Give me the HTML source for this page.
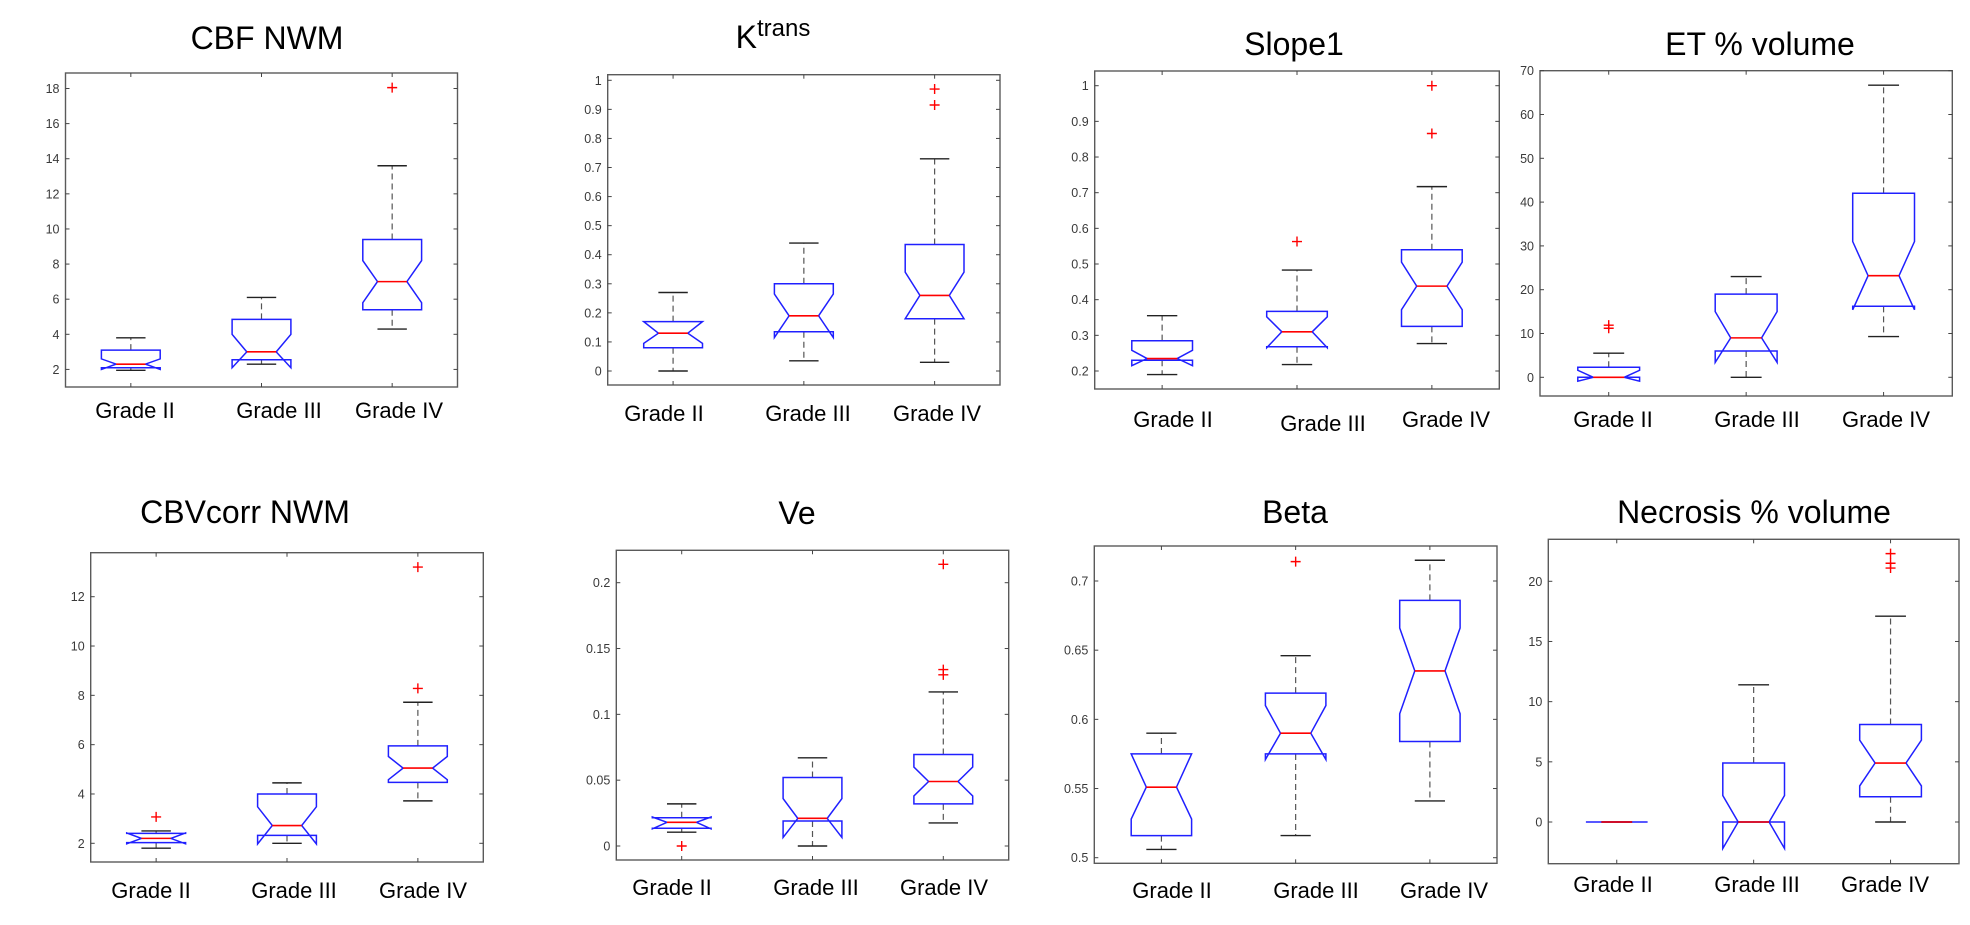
<!DOCTYPE html>
<html><head><meta charset="utf-8">
<style>
html,body{margin:0;padding:0;background:#fff;}
svg{display:block;}
</style></head>
<body>
<svg id="fig" width="1970" height="925" viewBox="0 0 1970 925" xmlns="http://www.w3.org/2000/svg"></svg>
<script>
// ---- data (per panel, per group: Grade II, Grade III, Grade IV) ----
const grades = ["Grade II", "Grade III", "Grade IV"];

const cbfWhiskLo = [1.95, 2.3, 4.3];
const cbfQ1 = [2.1, 2.55, 5.4];
const cbfNotchLo = [2.0, 2.1, 5.8];
const cbfMedian = [2.3, 3.0, 7.0];
const cbfNotchHi = [2.6, 4.0, 8.2];
const cbfQ3 = [3.1, 4.85, 9.4];
const cbfWhiskHi = [3.8, 6.1, 13.6];
const cbfOutliers = [[], [], [18.05]];
const cbfTicks = [2, 4, 6, 8, 10, 12, 14, 16, 18];

const ktWhiskLo = [0, 0.035, 0.03];
const ktQ1 = [0.08, 0.135, 0.18];
const ktNotchLo = [0.095, 0.115, 0.18];
const ktMedian = [0.13, 0.19, 0.26];
const ktNotchHi = [0.17, 0.265, 0.34];
const ktQ3 = [0.17, 0.30, 0.435];
const ktWhiskHi = [0.27, 0.44, 0.73];
const ktOutliers = [[], [], [0.97, 0.915]];
const ktTicks = [0, 0.1, 0.2, 0.3, 0.4, 0.5, 0.6, 0.7, 0.8, 0.9, 1];

const slWhiskLo = [0.19, 0.218, 0.277];
const slQ1 = [0.23, 0.268, 0.325];
const slNotchLo = [0.215, 0.265, 0.372];
const slMedian = [0.235, 0.31, 0.438];
const slNotchHi = [0.258, 0.352, 0.505];
const slQ3 = [0.285, 0.367, 0.54];
const slWhiskHi = [0.355, 0.483, 0.717];
const slOutliers = [[], [0.563], [1.0, 0.866]];
const slTicks = [0.2, 0.3, 0.4, 0.5, 0.6, 0.7, 0.8, 0.9, 1];

const etWhiskLo = [0, 0, 9.3];
const etQ1 = [0, 6, 16.2];
const etNotchLo = [-0.9, 3.4, 15.4];
const etMedian = [0, 9, 23.2];
const etNotchHi = [1.6, 15, 31];
const etQ3 = [2.3, 19, 42];
const etWhiskHi = [5.5, 23, 66.7];
const etOutliers = [[11.9, 11.2], [], []];
const etTicks = [0, 10, 20, 30, 40, 50, 60, 70];

const cbvWhiskLo = [1.8, 2.0, 3.72];
const cbvQ1 = [2.03, 2.32, 4.47];
const cbvNotchLo = [1.98, 1.97, 4.58];
const cbvMedian = [2.2, 2.72, 5.05];
const cbvNotchHi = [2.42, 3.48, 5.52];
const cbvQ3 = [2.4, 4.0, 5.95];
const cbvWhiskHi = [2.5, 4.45, 7.72];
const cbvOutliers = [[3.07], [], [13.2, 8.28]];
const cbvTicks = [2, 4, 6, 8, 10, 12];

const veWhiskLo = [0.0105, 0, 0.0175];
const veQ1 = [0.0135, 0.019, 0.032];
const veNotchLo = [0.013, 0.0065, 0.038];
const veMedian = [0.018, 0.021, 0.049];
const veNotchHi = [0.022, 0.036, 0.06];
const veQ3 = [0.0215, 0.052, 0.0695];
const veWhiskHi = [0.032, 0.067, 0.117];
const veOutliers = [[0], [], [0.214, 0.134, 0.13]];
const veTicks = [0, 0.05, 0.1, 0.15, 0.2];

const beWhiskLo = [0.506, 0.516, 0.541];
const beQ1 = [0.516, 0.575, 0.584];
const beNotchLo = [0.528, 0.571, 0.604];
const beMedian = [0.551, 0.590, 0.635];
const beNotchHi = [0.575, 0.610, 0.666];
const beQ3 = [0.575, 0.619, 0.686];
const beWhiskHi = [0.590, 0.646, 0.715];
const beOutliers = [[], [0.714], []];
const beTicks = [0.5, 0.55, 0.6, 0.65, 0.7];

const neWhiskLo = [0, 0, 0];
const neQ1 = [0, 0, 2.1];
const neNotchLo = [0, -2.2, 3.0];
const neMedian = [0, 0, 4.9];
const neNotchHi = [0, 2.2, 6.8];
const neQ3 = [0, 4.9, 8.1];
const neWhiskHi = [0, 11.4, 17.1];
const neOutliers = [[], [], [22.3, 21.5, 21.1]];
const neTicks = [0, 5, 10, 15, 20];

// ---- layout (pixel geometry, not data) ----
const panels = [
 {id:"cbf-nwm", title:"CBF NWM", L:65.5,T:73,R:457.5,B:387, ref:[18,88.5,4,334.3], tx:267,ty:49, lx:[135,279,399], ly:418,
  s:[cbfWhiskLo,cbfQ1,cbfNotchLo,cbfMedian,cbfNotchHi,cbfQ3,cbfWhiskHi], o:cbfOutliers, ticks:cbfTicks},
 {id:"ktrans", title:"K", sup:"trans", L:607.7,T:74.7,R:1000,B:385, ref:[1,80.3,0,371], tx:773,ty:48, lx:[664,808,937], ly:421,
  s:[ktWhiskLo,ktQ1,ktNotchLo,ktMedian,ktNotchHi,ktQ3,ktWhiskHi], o:ktOutliers, ticks:ktTicks},
 {id:"slope1", title:"Slope1", L:1094.7,T:71,R:1499.3,B:389, ref:[1,85.7,0.2,371], tx:1294,ty:55, lx:[1173,1323,1446], ly:[427,431,427],
  s:[slWhiskLo,slQ1,slNotchLo,slMedian,slNotchHi,slQ3,slWhiskHi], o:slOutliers, ticks:slTicks},
 {id:"et-volume", title:"ET % volume", L:1540,T:70.7,R:1952.3,B:396, ref:[70,70.7,0,377.3], tx:1760,ty:55, lx:[1613,1757,1886], ly:427,
  s:[etWhiskLo,etQ1,etNotchLo,etMedian,etNotchHi,etQ3,etWhiskHi], o:etOutliers, ticks:etTicks},
 {id:"cbvcorr-nwm", title:"CBVcorr NWM", L:90.7,T:552.7,R:483.3,B:862, ref:[12,596.7,2,843.3], tx:245,ty:523, lx:[151,294,423], ly:898,
  s:[cbvWhiskLo,cbvQ1,cbvNotchLo,cbvMedian,cbvNotchHi,cbvQ3,cbvWhiskHi], o:cbvOutliers, ticks:cbvTicks},
 {id:"ve", title:"Ve", L:616.3,T:550.3,R:1008.7,B:860, ref:[0.2,582.7,0,846], tx:797,ty:524, lx:[672,816,944], ly:895,
  s:[veWhiskLo,veQ1,veNotchLo,veMedian,veNotchHi,veQ3,veWhiskHi], o:veOutliers, ticks:veTicks},
 {id:"beta", title:"Beta", L:1094.3,T:546,R:1497,B:863.3, ref:[0.7,581,0.5,857.7], tx:1295,ty:523, lx:[1172,1316,1444], ly:898,
  s:[beWhiskLo,beQ1,beNotchLo,beMedian,beNotchHi,beQ3,beWhiskHi], o:beOutliers, ticks:beTicks},
 {id:"necrosis-volume", title:"Necrosis % volume", L:1548.3,T:539.3,R:1959,B:863.7, ref:[20,581.3,0,822], tx:1754,ty:523, lx:[1613,1757,1885], ly:892,
  s:[neWhiskLo,neQ1,neNotchLo,neMedian,neNotchHi,neQ3,neWhiskHi], o:neOutliers, ticks:neTicks}
];

const NS = "http://www.w3.org/2000/svg";
const fig = document.getElementById("fig");
function mk(tag, attrs, parent){
  const e = document.createElementNS(NS, tag);
  for (const k in attrs) e.setAttribute(k, attrs[k]);
  parent.appendChild(e);
  return e;
}

panels.forEach(p => {
  const g = mk("g", {}, fig);
  
  
  const [v1,p1,v2,p2] = p.ref;
  const yS = v => p1 + (v - v1) * (p2 - p1) / (v2 - v1);
  const sp = (p.R - p.L) / 3;
  const xS = i => p.L + (i + 0.5) * sp;
  const hw = sp * 0.225, nw = hw * 0.5;

  // title
  const t = mk("text", {x:p.tx, y:p.ty, "text-anchor":"middle", "font-family":"Liberation Sans, sans-serif", "font-size":32, fill:"#000"}, g);
  
  
  t.textContent = p.title;
  if (p.sup) {
    const ts = mk("tspan", {"font-size":24, dy:-12}, t);
    ts.textContent = p.sup;
  }

  // frame
  const fr = mk("rect", {x:p.L, y:p.T, width:p.R-p.L, height:p.B-p.T, fill:"none", stroke:"#5a5a5a", "stroke-width":1.4}, g);
  
  

  // y ticks
  p.ticks.forEach(v => {
    const y = yS(v);
    mk("line", {x1:p.L, x2:p.L+4, y1:y, y2:y, stroke:"#444", "stroke-width":1}, g);
    mk("line", {x1:p.R-4, x2:p.R, y1:y, y2:y, stroke:"#444", "stroke-width":1}, g);
    const tl = mk("text", {x:p.L-6, y:y+4.5, "text-anchor":"end", "font-family":"Liberation Sans, sans-serif", "font-size":12.5, fill:"#3a3a3a"}, g);
    
    
    tl.textContent = String(v);
  });

  const [wLo,q1,nLo,med,nHi,q3,wHi] = p.s;
  grades.forEach((gname, i) => {
    const x = xS(i);
    mk("line", {x1:x, x2:x, y1:p.T, y2:p.T+4, stroke:"#444"}, g);
    mk("line", {x1:x, x2:x, y1:p.B-4, y2:p.B, stroke:"#444"}, g);
    // whiskers
    const wu = mk("line", {x1:x, x2:x, y1:yS(q3[i]), y2:yS(wHi[i]), stroke:"#555", "stroke-width":1.2, "stroke-dasharray":"6,4"}, g);
    
    
    const wl = mk("line", {x1:x, x2:x, y1:yS(q1[i]), y2:yS(wLo[i]), stroke:"#555", "stroke-width":1.2, "stroke-dasharray":"6,4"}, g);
    
    
    const cu = mk("line", {x1:x-nw, x2:x+nw, y1:yS(wHi[i]), y2:yS(wHi[i]), stroke:"#222", "stroke-width":1.4}, g);
    
    
    const cl = mk("line", {x1:x-nw, x2:x+nw, y1:yS(wLo[i]), y2:yS(wLo[i]), stroke:"#222", "stroke-width":1.4}, g);
    
    
    // notched box
    const pts = [
      [x-hw, yS(q3[i])], [x-hw, yS(nHi[i])], [x-nw, yS(med[i])], [x-hw, yS(nLo[i])], [x-hw, yS(q1[i])],
      [x+hw, yS(q1[i])], [x+hw, yS(nLo[i])], [x+nw, yS(med[i])], [x+hw, yS(nHi[i])], [x+hw, yS(q3[i])]
    ].map(a => a[0].toFixed(1) + "," + a[1].toFixed(1)).join(" ");
    const bx = mk("polygon", {points:pts, fill:"none", stroke:"#2020ff", "stroke-width":1.5}, g);
    
    
    const md = mk("line", {x1:x-nw, x2:x+nw, y1:yS(med[i]), y2:yS(med[i]), stroke:"#ff0000", "stroke-width":1.6}, g);
    
    
    // outliers
    p.o[i].forEach(v => {
      const y = yS(v);
      const o = mk("path", {d:`M${x-5},${y}H${x+5}M${x},${y-5}V${y+5}`, stroke:"#ff0000", "stroke-width":1.4, fill:"none"}, g);
      
      
    });
    // category label
    const ly = Array.isArray(p.ly) ? p.ly[i] : p.ly;
    const lb = mk("text", {x:p.lx[i], y:ly, "text-anchor":"middle", "font-family":"Liberation Sans, sans-serif", "font-size":22, fill:"#000"}, g);
    
    
    lb.textContent = gname;
  });
});
</script>
</body></html>
